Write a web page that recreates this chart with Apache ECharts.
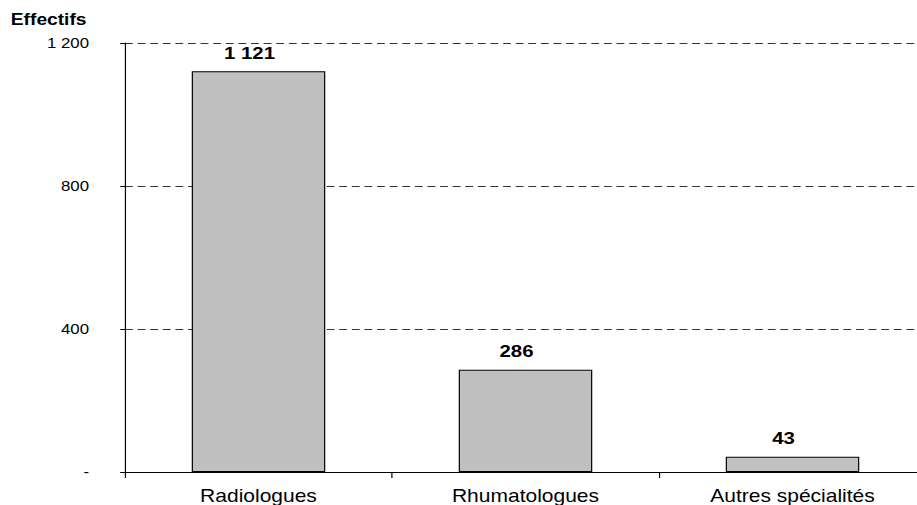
<!DOCTYPE html>
<html>
<head>
<meta charset="utf-8">
<script src="https://cdn.jsdelivr.net/npm/echarts@6/dist/echarts.min.js"></script>
<style>
  html, body { margin: 0; padding: 0; background: #fff; overflow: hidden; }
  #wrap { width: 917px; height: 505px; overflow: hidden; position: relative; }
  /* the chart is drawn with slightly wide lettering: a narrower canvas stretched horizontally;
     the plot runs past the right edge of the visible frame */
  #chart { width: 800px; height: 505px; transform: scaleX(1.2003); transform-origin: 0 0; }
</style>
</head>
<body>
<div id="wrap"><div id="chart"></div></div>
<script>
// Effectifs par spécialité
var categories = ['Radiologues', 'Rhumatologues', 'Autres spécialités'];
var effectifs = [1121, 286, 43];
var yTicks = [0, 400, 800, 1200];

var SX = 1.2003; // horizontal stretch applied to the chart container

function formatNombre(v) {
  if (v === 0) return '-';
  return String(v).replace(/\B(?=(\d{3})+(?!\d))/g, ' ');
}

var chart = echarts.init(document.getElementById('chart'), null, { renderer: 'svg' });
chart.setOption({
  animation: false,
  backgroundColor: '#ffffff',
  textStyle: { fontFamily: 'Liberation Sans, Arial, sans-serif' },
  graphic: [{
    type: 'text',
    left: 9,
    top: 12,
    style: {
      text: 'Effectifs',
      font: 'bold 16px "Liberation Sans", Arial, sans-serif',
      fill: '#000'
    }
  }],
  grid: { left: 125 / SX, width: 801 / SX, top: 43, bottom: 33, containLabel: false },
  xAxis: {
    type: 'category',
    data: categories,
    axisLine: { lineStyle: { color: '#000', width: 1 } },
    axisTick: { show: true, length: 6, lineStyle: { color: '#000' } },
    axisLabel: { color: '#000', fontSize: 17.5, margin: 15 },
    splitLine: { show: false }
  },
  yAxis: {
    type: 'value',
    min: yTicks[0],
    max: yTicks[yTicks.length - 1],
    interval: 400,
    axisLine: { show: true, lineStyle: { color: '#000', width: 1 } },
    axisTick: { show: true, length: 4, lineStyle: { color: '#000' } },
    axisLabel: {
      color: '#000', fontSize: 14, margin: 30,
      formatter: function (v) { return formatNombre(v); }
    },
    splitLine: { show: true, lineStyle: { color: '#333', type: [6.5, 4], width: 1 } }
  },
  series: [{
    type: 'bar',
    data: effectifs,
    barWidth: '50%',
    itemStyle: { color: '#c0c0c0', borderColor: '#000', borderWidth: 1 },
    label: {
      show: true,
      position: 'top',
      distance: 10,
      offset: [-7.5, 0],
      color: '#000',
      fontSize: 17,
      fontWeight: 'bold',
      formatter: function (p) { return formatNombre(p.value); }
    }
  }]
});
</script>
</body>
</html>
